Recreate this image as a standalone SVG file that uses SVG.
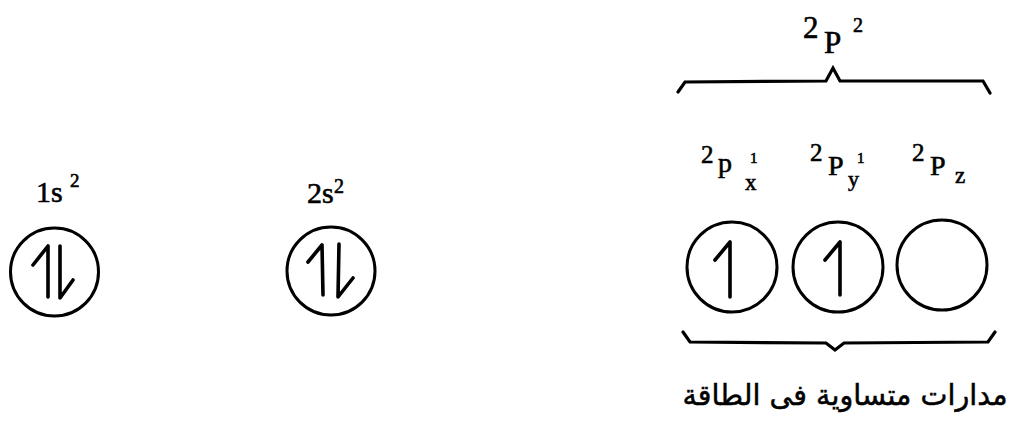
<svg xmlns="http://www.w3.org/2000/svg" width="1018" height="424" viewBox="0 0 1018 424">
<style>
.orb{fill:none;stroke:#000;stroke-width:3}
.ar{fill:none;stroke:#000;stroke-width:3.6;stroke-linecap:round;stroke-linejoin:round}
.br{fill:none;stroke:#000;stroke-width:3.2;stroke-linecap:round;stroke-linejoin:miter}
.t{font-family:"Liberation Serif","DejaVu Serif",serif;fill:#000;stroke:#000;stroke-width:0.6}
.ab{font-family:"DejaVu Sans","Noto Sans",sans-serif;fill:#000;stroke:#000;stroke-width:0.5}
</style>
<rect width="1018" height="424" fill="#fff"/>
<g id="orbital-1s">
<text class="t" x="36" y="202" font-size="30">1s</text>
<text class="t" x="70" y="187" font-size="19">2</text>
<circle class="orb" cx="54.5" cy="272" r="44"/>
<path class="ar" d="M33,265 L48,246 L48,297"/>
<path class="ar" d="M60,246 L60,298 L73,280"/>
</g>
<g id="orbital-2s">
<text class="t" x="307" y="203" font-size="30">2s</text>
<text class="t" x="334" y="193" font-size="20">2</text>
<circle class="orb" cx="331" cy="271" r="44"/>
<path class="ar" d="M308,262 L322,245 L323,295"/>
<path class="ar" d="M339,244 L338,297 L353,278"/>
</g>
<g id="label-2p2">
<text class="t" x="803" y="38" font-size="31">2</text>
<text class="t" x="824" y="53" font-size="31">P</text>
<text class="t" x="853" y="32" font-size="20">2</text>
</g>
<g id="brace-top">
<path class="br" d="M678,92 L685,82 L826,81 L833,68 L840,81 L983,81 L990,93"/>
</g>
<g id="orbital-2px">
<text class="t" x="701" y="163" font-size="25">2</text>
<text class="t" x="718" y="172" font-size="28">p</text>
<text class="t" x="750" y="163" font-size="15">1</text>
<text class="t" x="745" y="190" font-size="23">x</text>
<circle class="orb" cx="732" cy="267" r="45"/>
<path class="ar" d="M715,260 L730,242 L730,297"/>
</g>
<g id="orbital-2py">
<text class="t" x="810" y="161" font-size="25">2</text>
<text class="t" x="828" y="175" font-size="28">P</text>
<text class="t" x="857" y="163" font-size="15">1</text>
<text class="t" x="848" y="186" font-size="22">y</text>
<circle class="orb" cx="838" cy="267" r="45"/>
<path class="ar" d="M825,260 L840,242 L840,295"/>
</g>
<g id="orbital-2pz">
<text class="t" x="912" y="161" font-size="25">2</text>
<text class="t" x="930" y="175" font-size="28">P</text>
<text class="t" x="955" y="183" font-size="23">z</text>
<circle class="orb" cx="942" cy="265" r="45"/>
</g>
<g id="brace-bottom">
<path class="br" d="M683,332 L690,342 L826,343 L835,350 L844,343 L988,342 L995,332"/>
</g>
<g id="caption">
<text class="ab" x="845" y="405" font-size="29" text-anchor="middle" textLength="325" lengthAdjust="spacingAndGlyphs">مدارات متساوية فى الطاقة</text>
</g>
</svg>
